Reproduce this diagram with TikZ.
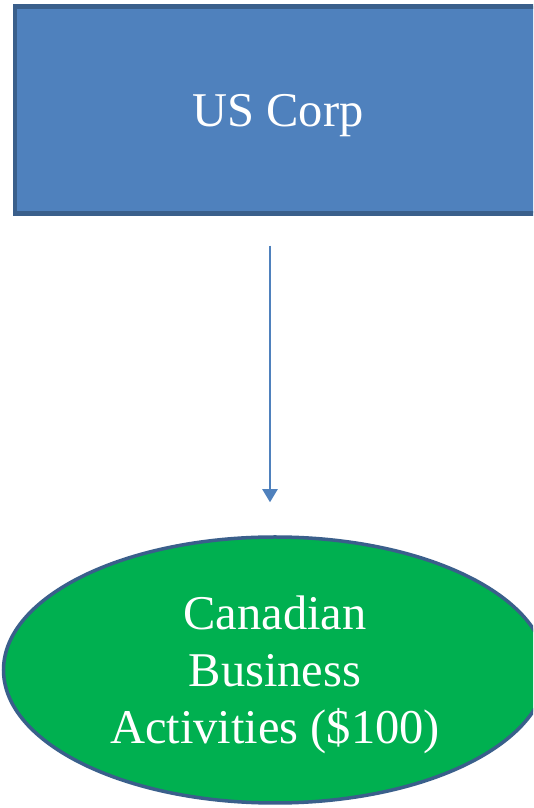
\documentclass[tikz,border=0pt]{standalone}
\usepackage{fontspec}
\setmainfont{Liberation Serif}
\usetikzlibrary{arrows.meta,shapes.geometric}
\definecolor{corpblue}{HTML}{4F81BD}
\definecolor{edgeblue}{HTML}{3A5F8B}
\definecolor{bizgreen}{HTML}{00B050}

\begin{document}
\begin{tikzpicture}[x=1pt,y=1pt,
    every node/.style={text=white,font=\fontsize{48.5}{57}\selectfont,text depth=0pt},
    corpbox/.style={rectangle,fill=corpblue,draw=edgeblue,line width=4.5pt,minimum width=526pt,minimum height=207pt,inner sep=0},
    bizoval/.style={ellipse,fill=bizgreen,draw=edgeblue,line width=3.5pt,minimum width=543pt,minimum height=266pt,inner sep=0,align=center},
    link/.style={draw=corpblue,line width=2pt,-{Triangle[length=13pt,width=15pt]}}]
        \useasboundingbox (0,0) rectangle (533,808);
        \clip (0,0) rectangle (533,808);
        \node[corpbox] (uscorp) at (278,698) {US Corp};
        \node[bizoval] (canada) at (275,138) {Canadian\\Business\\Activities (\$100)};
        \coordinate (mid) at (270,400);
        \draw[link,shorten <=30pt,shorten >=33pt] (uscorp.south -| mid) -- (canada.north -| mid);
      \end{tikzpicture}
\end{document}
